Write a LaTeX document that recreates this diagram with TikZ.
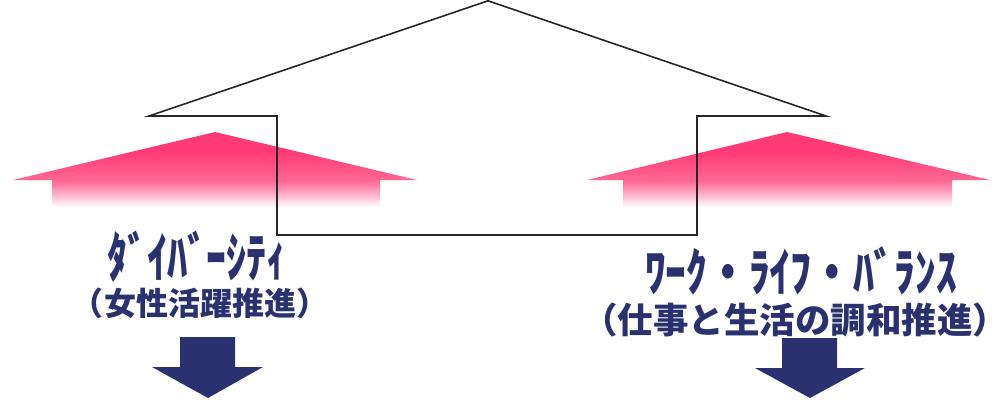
\documentclass[tikz,border=0pt]{standalone}
\usepackage{fontspec}
\newfontfamily\jp{Noto Sans CJK JP}
\definecolor{navy}{RGB}{42,49,110}
\definecolor{pinkD}{RGB}{255,58,118}
\definecolor{pinkM}{RGB}{255,105,150}
\definecolor{pinkL}{RGB}{255,200,220}
\pgfdeclareverticalshading{pinkfade}{100bp}{color(0bp)=(white); color(25bp)=(white); color(31bp)=(pinkL); color(42bp)=(pinkM); color(62bp)=(pinkD); color(100bp)=(pinkD)}
\tikzset{
  lbl/.style={text=navy, inner sep=0pt, font=\jp\bfseries},
  pinkarrow/.style={shading=pinkfade, draw=none},
  house/.style={draw=black!85, line width=1.6bp, line join=miter},
  downarrow/.style={fill=navy, draw=none}
}
\begin{document}
\begin{tikzpicture}[x=1bp,y=-1bp]
\useasboundingbox (0,0) rectangle (1007,399);
% pink roof-shaped arrows
\shade[pinkarrow] (13,180) -- (215,132) -- (417,180) -- (380,180) -- (380,207) -- (52,207) -- (52,180) -- cycle;
\shade[pinkarrow] (587,180) -- (787,132) -- (990,180) -- (952,180) -- (952,207) -- (623,207) -- (623,180) -- cycle;
% house outline
\draw[house] (488,0.8) -- (826,116) -- (697,116) -- (697,235) -- (277,235) -- (277,116) -- (149,116) -- cycle;
% labels
\node[lbl, font=\jp\bfseries\fontsize{54bp}{56bp}\selectfont] (div) at (197,257) {\scalebox{0.74}[1]{ﾀﾞｲﾊﾞｰｼﾃｨ}};
\node[lbl, font=\jp\bfseries\fontsize{32bp}{36bp}\selectfont] (divsub) at (200,303) {（女性活躍推進）};
\node[lbl, font=\jp\bfseries\fontsize{52bp}{56bp}\selectfont] (wlb) at (801,271) {\scalebox{0.8}[1]{ﾜｰｸ・ﾗｲﾌ・ﾊﾞﾗﾝｽ}};
\node[lbl, font=\jp\bfseries\fontsize{35.5bp}{40bp}\selectfont] (wlbsub) at (795,320) {（仕事と生活の調和推進）};
% down arrows
\fill[downarrow] (180,337) -- (235,337) -- (235,367) -- (263,367) -- (208,398) -- (152,367) -- (180,367) -- cycle;
\fill[downarrow] (782,338) -- (837,338) -- (837,368) -- (865,368) -- (810,398) -- (755,368) -- (782,368) -- cycle;
\end{tikzpicture}
\end{document}
